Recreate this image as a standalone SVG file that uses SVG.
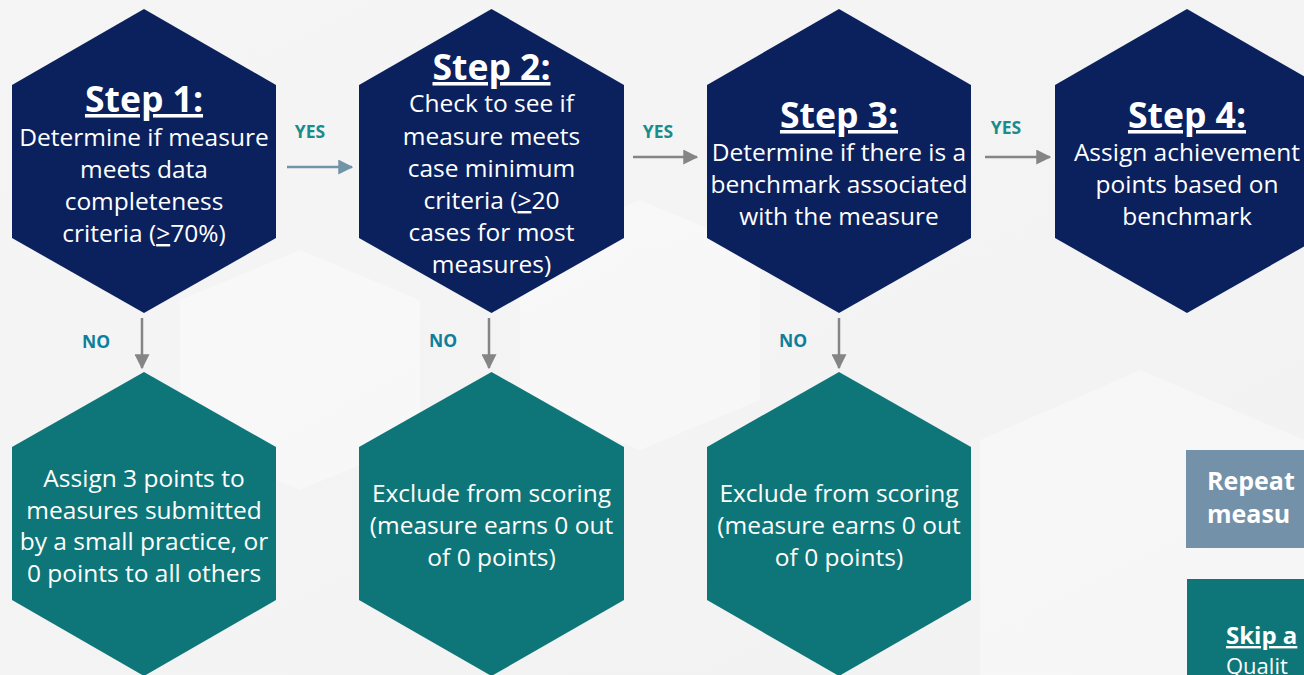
<svg xmlns="http://www.w3.org/2000/svg" width="1304" height="675" viewBox="0 0 1304 675">
<style>
.navy{fill:#0b215e}
.teal{fill:#0e7678}
.title{font-family:"Open Sans","Liberation Sans",sans-serif;font-weight:700;font-size:35.5px;fill:#ffffff;text-anchor:middle;text-decoration:underline}
.body{font-family:"Open Sans","Liberation Sans",sans-serif;font-size:24.5px;fill:#ffffff;text-anchor:middle}
.yes{font-family:"Open Sans","Liberation Sans",sans-serif;font-weight:700;font-size:17.5px;fill:#1a8c8a;text-anchor:middle}
.no{font-family:"Open Sans","Liberation Sans",sans-serif;font-weight:700;font-size:17.5px;fill:#0e7f9b;text-anchor:middle}
.u{text-decoration:underline}
.side{font-family:"Open Sans","Liberation Sans",sans-serif;fill:#ffffff}
.gray{stroke:#858585;stroke-width:2.5;fill:none}
.blue{stroke:#7393a7;stroke-width:2.5;fill:none}
</style>
<defs>
<marker id="ahg" markerWidth="6" markerHeight="6" refX="5.5" refY="3" orient="auto" markerUnits="strokeWidth"><path d="M0,0 L6,3 L0,6 Z" fill="#858585"/></marker>
<marker id="ahb" markerWidth="6" markerHeight="6" refX="5.5" refY="3" orient="auto" markerUnits="strokeWidth"><path d="M0,0 L6,3 L0,6 Z" fill="#7393a7"/></marker>
<linearGradient id="bgg" x1="0" y1="0" x2="1" y2="1"><stop offset="0" stop-color="#f5f5f5"/><stop offset="1" stop-color="#f2f2f2"/></linearGradient>
</defs>
<rect x="0" y="0" width="1304" height="675" fill="url(#bgg)"/>
<g id="background" fill="#ffffff" opacity="0.35">
<polygon points="1140,370 1304,440 1304,675 980,675 980,440"/>
<polygon points="300,250 420,300 420,440 300,490 180,440 180,300"/>
<polygon points="640,200 760,250 760,400 640,450 520,400 520,250"/>
</g>
<g id="step1">
<polygon class="navy" points="144,9 276,85 276,238 144,313 12,238 12,85"/>
<text class="title" x="144" y="112">Step 1:</text>
<text class="body" x="144" y="146">Determine if measure</text>
<text class="body" x="144" y="178">meets data</text>
<text class="body" x="144" y="210">completeness</text>
<text class="body" x="144" y="242">criteria (<tspan class="u">&gt;</tspan>70%)</text>
</g>
<g id="step2">
<polygon class="navy" points="491.5,9 624,85 624,238 491.5,313 359,238 359,85"/>
<text class="title" x="491.5" y="80">Step 2:</text>
<text class="body" x="491.5" y="112">Check to see if</text>
<text class="body" x="491.5" y="145">measure meets</text>
<text class="body" x="491.5" y="177">case minimum</text>
<text class="body" x="491.5" y="209">criteria (<tspan class="u">&gt;</tspan>20</text>
<text class="body" x="491.5" y="241">cases for most</text>
<text class="body" x="491.5" y="273">measures)</text>
</g>
<g id="step3">
<polygon class="navy" points="839,9 971,85 971,238 839,313 707,238 707,85"/>
<text class="title" x="839" y="128">Step 3:</text>
<text class="body" x="839" y="161">Determine if there is a</text>
<text class="body" x="839" y="193">benchmark associated</text>
<text class="body" x="839" y="225">with the measure</text>
</g>
<g id="step4">
<polygon class="navy" points="1187,9 1319,85 1319,238 1187,313 1055,238 1055,85"/>
<text class="title" x="1187" y="128">Step 4:</text>
<text class="body" x="1187" y="161">Assign achievement</text>
<text class="body" x="1187" y="193">points based on</text>
<text class="body" x="1187" y="225">benchmark</text>
</g>
<g id="outcome1">
<polygon class="teal" points="144,372 276,447 276,600 144,676 12,600 12,447"/>
<text class="body" x="144" y="487">Assign 3 points to</text>
<text class="body" x="144" y="519">measures submitted</text>
<text class="body" x="144" y="550">by a small practice, or</text>
<text class="body" x="144" y="582">0 points to all others</text>
</g>
<g id="outcome2">
<polygon class="teal" points="491.5,372 624,447 624,600 491.5,676 359,600 359,447"/>
<text class="body" x="491.5" y="502">Exclude from scoring</text>
<text class="body" x="491.5" y="534">(measure earns 0 out</text>
<text class="body" x="491.5" y="566">of 0 points)</text>
</g>
<g id="outcome3">
<polygon class="teal" points="839,372 971,447 971,600 839,676 707,600 707,447"/>
<text class="body" x="839" y="502">Exclude from scoring</text>
<text class="body" x="839" y="534">(measure earns 0 out</text>
<text class="body" x="839" y="566">of 0 points)</text>
</g>
<g id="repeat">
<rect x="1186" y="450" width="130" height="98" fill="#7391a8"/>
<text class="side" x="1207" y="490" font-size="25" font-weight="700">Repeat</text>
<text class="side" x="1207" y="523" font-size="25" font-weight="700">measu</text>
</g>
<g id="skip">
<rect x="1187" y="579" width="130" height="100" fill="#0e7678"/>
<text class="side" x="1226" y="644" font-size="24" font-weight="700" text-decoration="underline">Skip a</text>
<text class="side" x="1226" y="674" font-size="22">Qualit</text>
</g>
<g id="connectors">
<line class="blue" x1="287" y1="167" x2="352" y2="167" marker-end="url(#ahb)"/>
<line class="gray" x1="633" y1="157" x2="697" y2="157" marker-end="url(#ahg)"/>
<line class="gray" x1="985" y1="157" x2="1050" y2="157" marker-end="url(#ahg)"/>
<line class="gray" x1="142" y1="318" x2="142" y2="368" marker-end="url(#ahg)"/>
<line class="gray" x1="489" y1="318" x2="489" y2="368" marker-end="url(#ahg)"/>
<line class="gray" x1="839" y1="318" x2="839" y2="368" marker-end="url(#ahg)"/>
<text class="yes" x="310" y="138">YES</text>
<text class="yes" x="658" y="138">YES</text>
<text class="yes" x="1006" y="134">YES</text>
<text class="no" x="96" y="348">NO</text>
<text class="no" x="443" y="347">NO</text>
<text class="no" x="793" y="347">NO</text>
</g>
</svg>
